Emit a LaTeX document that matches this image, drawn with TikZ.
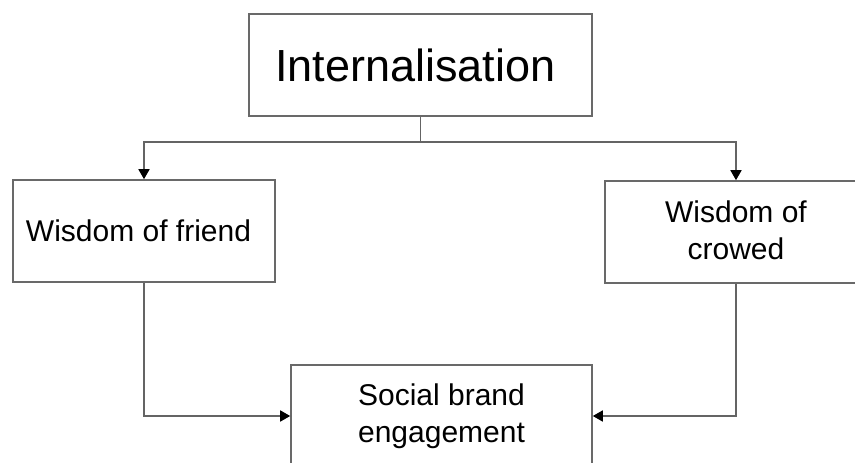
\documentclass[tikz,border=0pt]{standalone}
\usepackage{fontspec}
\setmainfont{Liberation Sans}
\usetikzlibrary{arrows.meta}
\definecolor{boxgray}{RGB}{105,105,105}
\definecolor{linegray}{RGB}{100,100,100}

\begin{document}
\begin{tikzpicture}[x=1pt,y=-1pt,
    box/.style={draw=boxgray,line width=1.6pt,fill=white,align=center,inner sep=0pt,
      minimum height=102pt,font=\fontsize{30}{37}\selectfont},
    link/.style={draw=linegray,line width=1.6pt},
    arr/.style={link,-{Triangle[length=10pt,width=11pt,color=black]}}]
  \useasboundingbox (0,0) rectangle (855,463);
  \clip (0,0) rectangle (855,463);
  \node[box,minimum width=343pt,font=\fontsize{45}{54}\selectfont] (top) at (420.5,65) {Internalisation\hspace*{10pt}};
  \node[box,minimum width=262pt] (friend) at (144,231) {Wisdom of friend\hspace*{11pt}};
  \node[box,minimum width=262pt,text depth=3pt] (crowd) at (736,232) {Wisdom of\\crowed};
  \node[box,minimum width=301pt] (social) at (441.5,416) {Social brand\\engagement};
  \coordinate (bus) at (420.5,142);
  \draw[link] (top.south) -- (bus);
  \foreach \side/\inlet in {friend/west,crowd/east} {
    \draw[arr] (bus) -| (\side.north);
    \draw[arr] (\side.south) |- (social.\inlet);
  }
\end{tikzpicture}
\end{document}
